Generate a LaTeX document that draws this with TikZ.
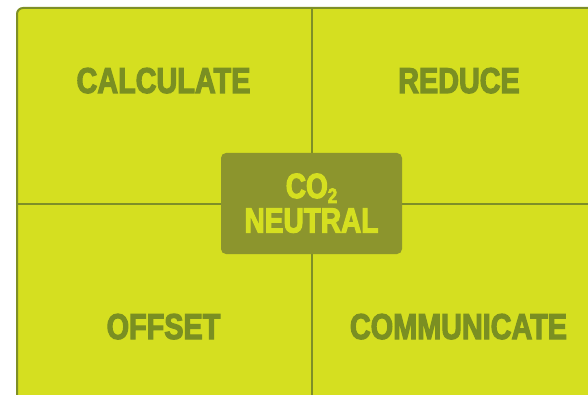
\documentclass[tikz,border=0pt]{standalone}
\usepackage{fontspec}
\newfontfamily\condfont[FakeStretch=0.80, BoldFeatures={FakeBold=3}]{Liberation Sans}
\definecolor{leaf}{HTML}{D5DF20}
\definecolor{olive}{HTML}{7E8F27}
\definecolor{labelolive}{HTML}{7A8F22}
\definecolor{boxolive}{HTML}{8C952D}
\tikzset{
  frame/.style={draw=olive, line width=2pt, fill=leaf, rounded corners=6pt},
  divider/.style={draw=olive, line width=1.5pt},
  quadlabel/.style={anchor=base, inner sep=0pt, text=labelolive,
    font=\condfont\bfseries\fontsize{36}{38}\selectfont},
  hub/.style={fill=boxolive, rounded corners=5pt, inner sep=0pt},
  hubtext/.style={anchor=base, inner sep=0pt, text=leaf, align=center,
    font=\condfont\bfseries\fontsize{35}{34.5}\selectfont}
}
\begin{document}
\begin{tikzpicture}[x=1pt, y=-1pt]
  \useasboundingbox (0,0) rectangle (588,395);
  \clip (0,0) rectangle (588,395);
  % outer panel, running past the right and bottom edges
  \path[frame] (17,8) rectangle (620,430);
  % quadrant dividers
  \coordinate (top) at (312,9);
  \coordinate (bottom) at (312,400);
  \coordinate (left) at (18,204);
  \coordinate (right) at (600,204);
  \draw[divider] (top) -- (bottom);
  \draw[divider] (left) -- (right);
  % quadrant titles
  \node[quadlabel] (calc) at (163.5,93) {CALCULATE};
  \node[quadlabel] (reduce) at (459,93) {REDUCE};
  \node[quadlabel] (offset) at (163.5,339) {OFFSET};
  \node[quadlabel] (comm) at (458.5,339) {COMMUNICATE};
  % central badge; the base anchor sits on the last line
  \node[hub, minimum width=181pt, minimum height=101pt] (hub) at (311.5,203.5) {};
  \node[hubtext] (neutral) at (311.5,232.5)
    {CO\raisebox{-5pt}{\fontsize{21}{21}\selectfont 2}\\NEUTRAL};
\end{tikzpicture}
\end{document}
